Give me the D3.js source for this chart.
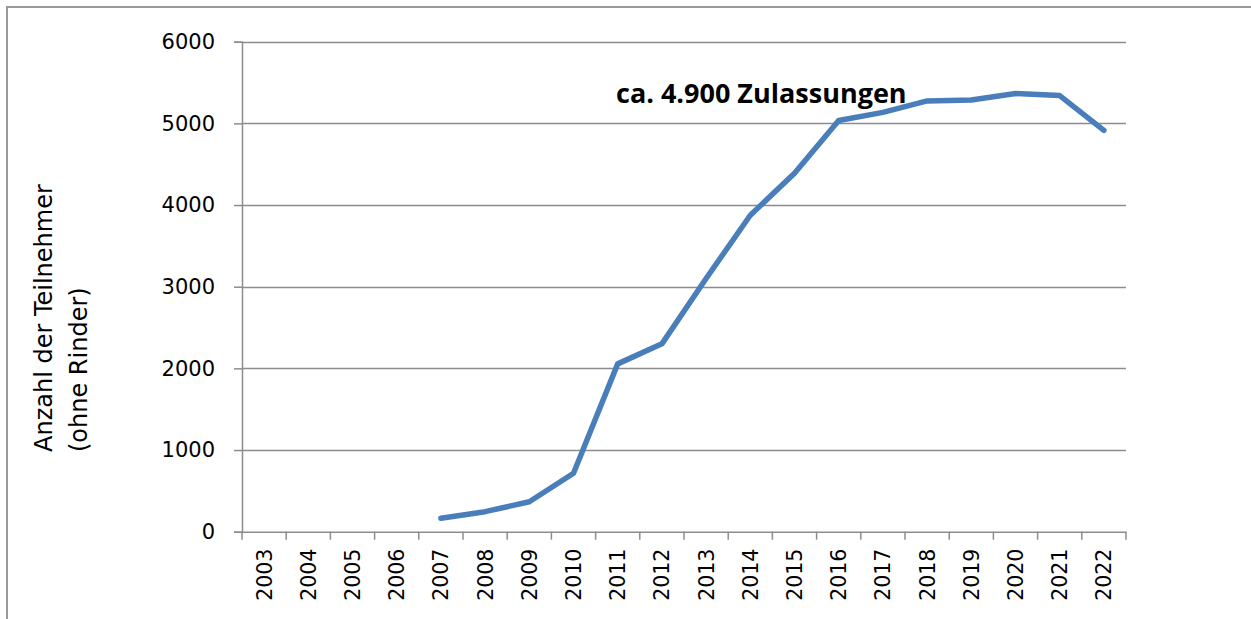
<!DOCTYPE html>
<html>
<head>
<meta charset="utf-8">
<script src="https://cdn.jsdelivr.net/npm/d3@7"></script>
<style>
  body { margin: 0; background: #fff; }
  svg { display: block; }
</style>
</head>
<body>
<div id="chart"></div>
<script>
var years = ["2003","2004","2005","2006","2007","2008","2009","2010","2011","2012",
             "2013","2014","2015","2016","2017","2018","2019","2020","2021","2022"];
var teilnehmerYears = ["2007","2008","2009","2010","2011","2012","2013","2014","2015",
                       "2016","2017","2018","2019","2020","2021","2022"];
var teilnehmer = [165, 245, 367, 715, 2055, 2300, 3100, 3875, 4390,
                  5035, 5135, 5275, 5285, 5365, 5340, 4915];
var yTicks = [0, 1000, 2000, 3000, 4000, 5000, 6000];
var annotation = "ca. 4.900 Zulassungen";
var yLabelLines = ["Anzahl der Teilnehmer", "(ohne Rinder)"];

var width = 1251, height = 619;
var plotLeft = 242, plotRight = 1126, plotTop = 41.7, plotBottom = 531.7;
var font = "'DejaVu Sans', sans-serif";
var gridColor = "#8c8c8c";

var svg = d3.select("#chart").append("svg")
  .attr("width", width)
  .attr("height", height);

// outer frame (left and top edges only visible)
svg.append("path")
  .attr("d", "M7,619 V7 H1251")
  .attr("fill", "none")
  .attr("stroke", "#999")
  .attr("stroke-width", 2);

var x = d3.scaleBand().domain(years).range([plotLeft, plotRight]);
var y = d3.scaleLinear().domain([0, 6000]).range([plotBottom, plotTop]);

// gridlines
svg.append("g")
  .selectAll("line")
  .data(yTicks.slice(1))
  .enter().append("line")
    .attr("x1", plotLeft).attr("x2", plotRight)
    .attr("y1", function(d) { return Math.round(y(d)) + 0.5; })
    .attr("y2", function(d) { return Math.round(y(d)) + 0.5; })
    .attr("stroke", gridColor)
    .attr("stroke-width", 1.3);

// y axis
var yAxis = d3.axisLeft(y).tickValues(yTicks).tickSize(8).tickPadding(19).tickFormat(d3.format("d"));
var gy = svg.append("g")
  .attr("transform", "translate(" + plotLeft + ",0)")
  .call(yAxis);
gy.select(".domain").attr("stroke", gridColor).attr("stroke-width", 1.5);
gy.selectAll(".tick line").attr("stroke", gridColor).attr("stroke-width", 1.5);
gy.selectAll(".tick text")
  .attr("font-family", font).attr("font-size", "21px").attr("fill", "#000");

// x axis
var xAxis = d3.axisBottom(x).tickSize(0).tickPadding(0);
var gx = svg.append("g")
  .attr("transform", "translate(0," + plotBottom + ")")
  .call(xAxis);
gx.select(".domain").attr("stroke", gridColor).attr("stroke-width", 1.5);
gx.selectAll(".tick text")
  .attr("font-family", font).attr("font-size", "20.5px").attr("fill", "#000")
  .attr("text-anchor", "end")
  .attr("dy", null)
  .attr("transform", "translate(7.5,17) rotate(-90)")
  .attr("x", 0).attr("y", 0);

// tick marks at band boundaries
svg.append("g")
  .selectAll("line")
  .data(years.concat(["end"]))
  .enter().append("line")
    .attr("x1", function(d, i) { return plotLeft + i * x.step(); })
    .attr("x2", function(d, i) { return plotLeft + i * x.step(); })
    .attr("y1", plotBottom).attr("y2", plotBottom + 8)
    .attr("stroke", gridColor)
    .attr("stroke-width", 1.5);

// line
var line = d3.line()
  .x(function(d, i) { return x(teilnehmerYears[i]) + x.bandwidth() / 2; })
  .y(function(d) { return y(d); });

svg.append("path")
  .datum(teilnehmer)
  .attr("d", line)
  .attr("fill", "none")
  .attr("stroke", "#4a7ebb")
  .attr("stroke-width", 5.5)
  .attr("stroke-linejoin", "round")
  .attr("stroke-linecap", "round");

// annotation
svg.append("text")
  .attr("x", 616).attr("y", 103)
  .attr("font-family", "'Open Sans', sans-serif")
  .attr("font-weight", "bold")
  .attr("font-size", "27px")
  .attr("fill", "#000")
  .text(annotation);

// y axis title
svg.append("g")
  .attr("transform", "translate(52,452) rotate(-90)")
  .selectAll("text")
  .data(yLabelLines)
  .enter().append("text")
    .attr("x", 0)
    .attr("y", function(d, i) { return i * 35; })
    .attr("font-family", font)
    .attr("font-size", "24px")
    .attr("fill", "#000")
    .text(function(d) { return d; });
</script>
</body>
</html>
